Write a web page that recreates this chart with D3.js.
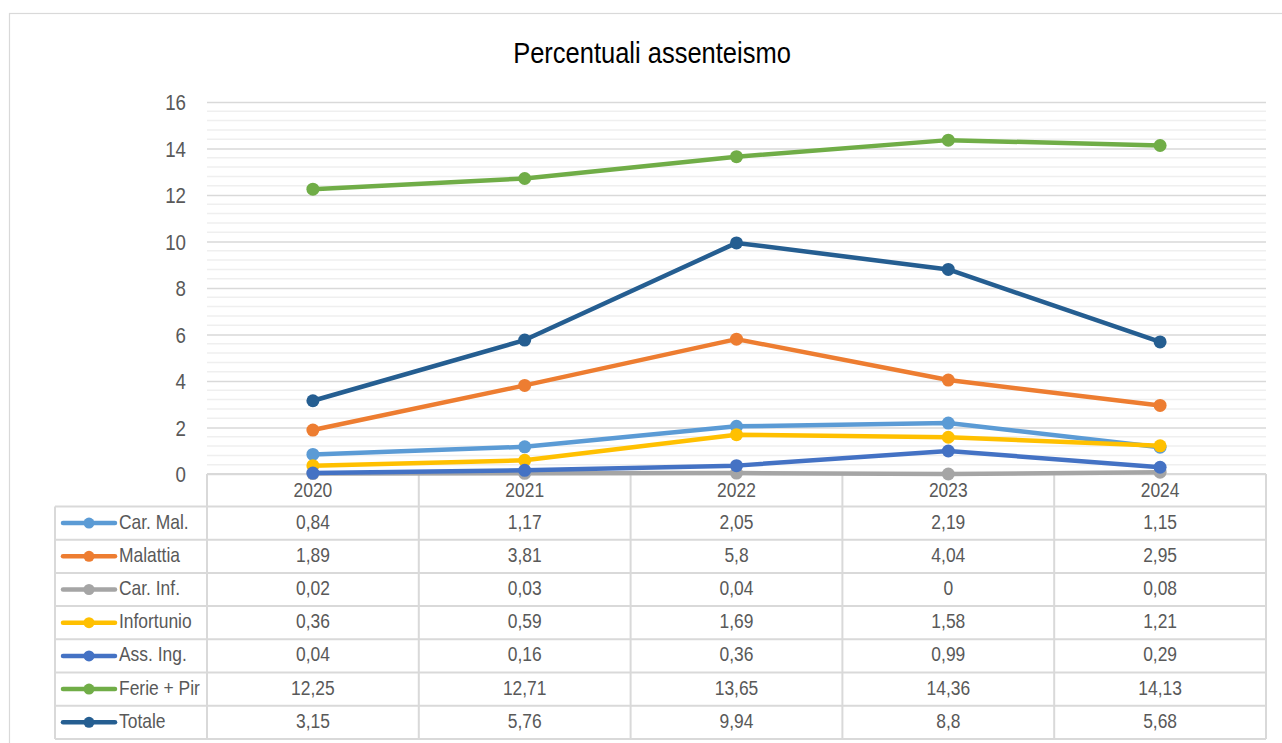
<!DOCTYPE html>
<html>
<head>
<meta charset="utf-8">
<script src="https://cdn.jsdelivr.net/npm/d3@7"></script>
<style>
  body { margin: 0; background: #fff; }
  text { font-family: "Liberation Sans", Arial, sans-serif; fill: #595959; }
  .title { fill: #000; }
</style>
</head>
<body>
<div id="chart"></div>
<script>
// categories and series
const years = ["2020", "2021", "2022", "2023", "2024"];
const seriesNames = ["Car. Mal.", "Malattia", "Car. Inf.", "Infortunio", "Ass. Ing.", "Ferie + Pir", "Totale"];
const seriesColors = ["#5B9BD5", "#ED7D31", "#A5A5A5", "#FFC000", "#4472C4", "#70AD47", "#255E91"];
const carMal = [0.84, 1.17, 2.05, 2.19, 1.15];
const malattia = [1.89, 3.81, 5.8, 4.04, 2.95];
const carInf = [0.02, 0.03, 0.04, 0, 0.08];
const infortunio = [0.36, 0.59, 1.69, 1.58, 1.21];
const assIng = [0.04, 0.16, 0.36, 0.99, 0.29];
const feriePir = [12.25, 12.71, 13.65, 14.36, 14.13];
const totale = [3.15, 5.76, 9.94, 8.8, 5.68];
const yTicks = [0, 2, 4, 6, 8, 10, 12, 14, 16];

const allValues = [carMal, malattia, carInf, infortunio, assIng, feriePir, totale];
const series = seriesNames.map((name, i) => ({name, color: seriesColors[i], values: allValues[i]}));

// layout
const W = 1282, H = 743;
const plotL = 207, plotR = 1266, plotT = 102, plotB = 474;
const tableL = 55, headerH = 32.5, rowH = 33.2;
const narrow = 0.85; // squeeze Liberation Sans to look like a narrow face

const svg = d3.select("#chart").append("svg")
  .attr("width", W).attr("height", H);

// narrow text helper
function ntext(sel, x, y, size, anchor) {
  return sel.append("text")
    .attr("transform", `translate(${x},${y}) scale(${narrow},1)`)
    .attr("font-size", size)
    .attr("text-anchor", anchor || "start");
}

// outer chart border
svg.append("rect")
  .attr("x", 9.5).attr("y", 13.5)
  .attr("width", W + 10).attr("height", H + 10)
  .attr("fill", "none").attr("stroke", "#d9d9d9").attr("stroke-width", 1.2);

ntext(svg, 652, 63, 30, "middle").attr("class", "title").text("Percentuali assenteismo");

const x = d3.scaleBand().domain(years).range([plotL, plotR]);
const y = d3.scaleLinear().domain([0, 16]).range([plotB, plotT]);
const cx = d => x(d) + x.bandwidth() / 2;

// minor gridlines
const minor = d3.range(0, 16.001, 0.4).filter(v => Math.abs(v / 2 - Math.round(v / 2)) > 0.01);
svg.append("g").selectAll("line").data(minor).join("line")
  .attr("x1", plotL).attr("x2", plotR)
  .attr("y1", d => y(d)).attr("y2", d => y(d))
  .attr("stroke", "#efefef").attr("stroke-width", 1.5);

// y axis with major gridlines
const yAxis = svg.append("g")
  .attr("transform", `translate(${plotL},0)`)
  .call(d3.axisLeft(y).tickValues(yTicks).tickSize(-(plotR - plotL)).tickFormat(""));
yAxis.select(".domain").remove();
yAxis.selectAll(".tick line").attr("stroke", "#d9d9d9").attr("stroke-width", 1.5);
const yLab = svg.append("g");
yTicks.forEach(t => ntext(yLab, 186, y(t) + 8, 22, "end").text(t));

// data table
const tableB = plotB + headerH + rowH * series.length;
const grid = svg.append("g").attr("stroke", "#d9d9d9").attr("stroke-width", 2);
const edges = years.map(d => x(d)).concat([plotR]);
grid.selectAll("line.v").data(edges).join("line").attr("class", "v")
  .attr("x1", d => d).attr("x2", d => d)
  .attr("y1", plotB).attr("y2", tableB);
grid.append("line")
  .attr("x1", tableL).attr("x2", tableL)
  .attr("y1", plotB + headerH).attr("y2", tableB);
grid.append("line").attr("x1", plotL).attr("x2", plotR).attr("y1", plotB).attr("y2", plotB);
const rowLines = d3.range(series.length + 1).map(i => plotB + headerH + i * rowH);
grid.selectAll("line.h").data(rowLines).join("line").attr("class", "h")
  .attr("x1", tableL).attr("x2", plotR)
  .attr("y1", d => d).attr("y2", d => d);

// header years
const hdr = svg.append("g");
years.forEach(d => ntext(hdr, cx(d), plotB + 23, 20.5, "middle").text(d));

// rows
const rows = svg.append("g").selectAll("g").data(series).join("g")
  .attr("transform", (d, i) => `translate(0,${plotB + headerH + i * rowH + rowH / 2})`);
rows.append("line")
  .attr("x1", 63).attr("x2", 115).attr("y1", 0).attr("y2", 0)
  .attr("stroke", d => d.color).attr("stroke-width", 4.5).attr("stroke-linecap", "round");
rows.append("circle")
  .attr("cx", 89).attr("cy", 0).attr("r", 5.5)
  .attr("fill", d => d.color);
rows.each(function(d) {
  const g = d3.select(this);
  ntext(g, 119, 5.5, 20.5).text(d.name);
  d.values.forEach((v, j) => ntext(g, cx(years[j]), 5.5, 20.5, "middle").text(String(v).replace(".", ",")));
});

// lines and markers
const line = d3.line().x((v, j) => cx(years[j])).y(v => y(v));
const sg = svg.append("g").selectAll("g").data(series).join("g");
sg.append("path")
  .attr("d", d => line(d.values))
  .attr("fill", "none").attr("stroke", d => d.color)
  .attr("stroke-width", 4.5).attr("stroke-linejoin", "round").attr("stroke-linecap", "round");
sg.selectAll("circle").data(d => d.values.map(v => ({v, c: d.color}))).join("circle")
  .attr("cx", (d, j) => cx(years[j]))
  .attr("cy", d => y(d.v)).attr("r", 6.5)
  .attr("fill", d => d.c);
</script>
</body>
</html>
